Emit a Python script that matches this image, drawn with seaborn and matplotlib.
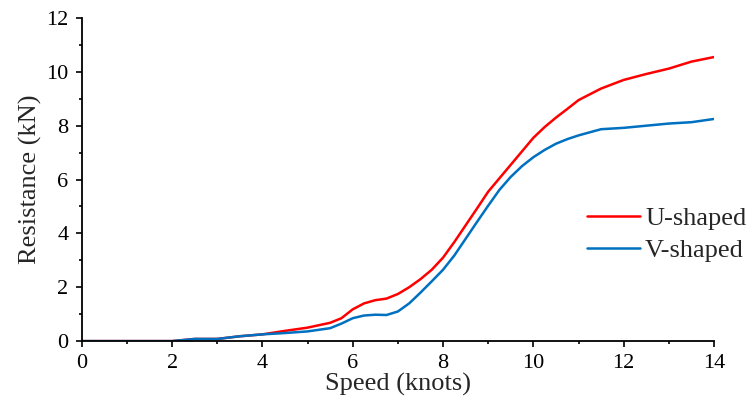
import pandas as pd
import matplotlib.pyplot as plt
import seaborn as sns
from matplotlib.ticker import MultipleLocator

# ---------------------------------------------------
# Podaci (ocitano sa slike)
# ---------------------------------------------------
speed = [0, 0.5, 1, 1.5, 2, 2.5, 3, 3.5, 4, 4.5, 5, 5.5,
         5.75, 6, 6.25, 6.5, 6.75, 7, 7.25, 7.5, 7.75, 8, 8.25, 8.5, 8.75,
         9, 9.25, 9.5, 9.75, 10, 10.25, 10.5, 10.75, 11,
         11.5, 12, 12.5, 13, 13.5, 14]
u_shaped = [0, 0, 0, 0, 0, 0.08, 0.08, 0.18, 0.25, 0.38, 0.5, 0.68,
            0.85, 1.18, 1.4, 1.52, 1.58, 1.75, 2.0, 2.3, 2.65, 3.1, 3.68, 4.3, 4.92,
            5.55, 6.05, 6.55, 7.05, 7.55, 7.95, 8.3, 8.62, 8.95,
            9.38, 9.7, 9.92, 10.12, 10.38, 10.55]
v_shaped = [0, 0, 0, 0, 0, 0.08, 0.08, 0.18, 0.25, 0.3, 0.36, 0.48,
            0.65, 0.85, 0.95, 0.98, 0.97, 1.1, 1.4, 1.8, 2.22, 2.65, 3.18, 3.8, 4.42,
            5.03, 5.62, 6.1, 6.5, 6.83, 7.1, 7.33, 7.5, 7.64,
            7.87, 7.92, 8.0, 8.08, 8.13, 8.25]
series_names = ["U-shaped", "V-shaped"]
colors = ["#FF0000", "#0070C0"]

df = pd.DataFrame({
    "Speed": speed * 2,
    "Resistance": u_shaped + v_shaped,
    "Hull": [series_names[0]] * len(speed) + [series_names[1]] * len(speed),
})

sns.set_style("ticks")
plt.rcParams['font.family'] = ['Liberation Serif', 'DejaVu Serif']

fig = plt.figure(figsize=(7.5, 4.09), dpi=100)
ax = fig.add_axes([0.109, 0.166, 0.843, 0.79])

sns.lineplot(data=df, x="Speed", y="Resistance", hue="Hull",
             palette=dict(zip(series_names, colors)), linewidth=1.8, ax=ax)

ax.set_xlim(0, 14)
ax.set_ylim(0, 12)
ax.xaxis.set_major_locator(MultipleLocator(2))
ax.xaxis.set_minor_locator(MultipleLocator(1))
ax.yaxis.set_major_locator(MultipleLocator(2))
ax.yaxis.set_minor_locator(MultipleLocator(1))
ax.tick_params(which="major", direction="out", length=4.5, width=1.2, colors="black")
ax.tick_params(which="minor", direction="out", length=2.5, width=1.2, colors="black")
ax.tick_params(labelsize=16, pad=5)
for s in ["left", "bottom"]:
    ax.spines[s].set_linewidth(1.3)
    ax.spines[s].set_color("black")
sns.despine(ax=ax)

ax.set_xlabel("Speed (knots)", fontsize=19, labelpad=0)
ax.set_ylabel("Resistance (kN)", fontsize=19, labelpad=3)

ax.legend(loc="upper left", bbox_to_anchor=(587 / 750, 1 - 207 / 409),
          bbox_transform=fig.transFigure, frameon=False, fontsize=19,
          handlelength=2.0, handletextpad=0.2, labelspacing=0.3,
          borderpad=0, borderaxespad=0)

fig.savefig("out.png", dpi=100)
